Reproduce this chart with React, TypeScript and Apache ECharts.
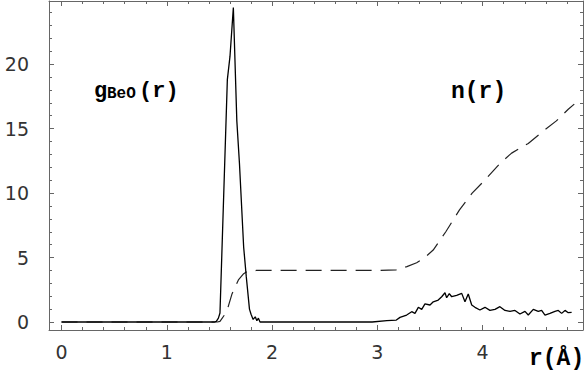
import React, { useEffect, useRef } from "react";
import * as echarts from "echarts";

// g_BeO(r) radial distribution: [r (Å), g]
const gBeO: [number, number][] = [
  [0, 0], [1.45, 0], [1.47, 0.05], [1.49, 0.3], [1.505, 0.7], [1.575, 18.8], [1.6, 20.6],
  [1.632, 24.4], [1.665, 15.6], [1.69, 12.3], [1.73, 5.8], [1.755, 3.5], [1.785, 1.0],
  [1.8, 0.6], [1.82, 0.2], [1.84, 0.4], [1.855, 0.1], [1.87, 0.3], [1.885, 0],
  [2.95, 0], [3.09, 0.1], [3.18, 0.15], [3.215, 0.36], [3.278, 0.54], [3.326, 0.8],
  [3.357, 0.67], [3.389, 1.14], [3.421, 0.98], [3.452, 1.4], [3.5, 1.32], [3.531, 1.57],
  [3.578, 1.7], [3.611, 1.96], [3.642, 2.27], [3.658, 1.88], [3.683, 2.2], [3.706, 1.96],
  [3.753, 2.07], [3.801, 2.22], [3.832, 1.57], [3.863, 2.17], [3.896, 1.32], [3.927, 1.14],
  [3.974, 0.93], [4.022, 1.14], [4.069, 0.9], [4.117, 0.98], [4.164, 1.19], [4.212, 0.9],
  [4.259, 0.83], [4.307, 0.9], [4.354, 0.62], [4.402, 0.83], [4.433, 0.54], [4.481, 0.98],
  [4.528, 0.83], [4.56, 0.9], [4.592, 0.54], [4.639, 0.67], [4.687, 0.83], [4.718, 0.9],
  [4.75, 0.67], [4.782, 0.9], [4.813, 0.72], [4.845, 0.75],
];

// n(r) running coordination number: [r (Å), n]
const nR: [number, number][] = [
  [0, 0], [1.48, 0], [1.505, 0.05], [1.569, 0.8], [1.62, 2.2], [1.68, 3.26], [1.73, 3.75],
  [1.76, 3.9], [1.85, 4.0], [3.0, 4.0], [3.18, 4.05], [3.28, 4.3], [3.373, 4.6], [3.45, 5.0],
  [3.53, 5.58], [3.65, 7.0], [3.78, 8.7], [3.9, 10.0], [4.02, 11.0], [4.164, 12.3],
  [4.275, 13.1], [4.433, 13.85], [4.59, 14.9], [4.7, 15.6], [4.813, 16.5], [4.87, 16.9],
];

const xLabels = [0, 1, 2, 3, 4];
const yLabels = [0, 5, 10, 15, 20];
const xMinor = [0, 0.2, 0.4, 0.6, 0.8, 1, 1.2, 1.4, 1.6, 1.8, 2, 2.2, 2.4, 2.6, 2.8, 3, 3.2, 3.4, 3.6, 3.8, 4, 4.2, 4.4, 4.6, 4.8];
const yMinor = [0, 1, 2, 3, 4, 5, 6, 7, 8, 9, 10, 11, 12, 13, 14, 15, 16, 17, 18, 19, 20, 21, 22, 23, 24];

const X_MIN = -0.119;
const X_MAX = 4.953;
const Y_MIN = -0.62;
const Y_MAX = 24.9;

const FRAME = "#666";
const LABEL_FONT = "DejaVu Sans";
const MONO = "Liberation Mono";

export default function App() {
  const ref = useRef<HTMLDivElement>(null);
  useEffect(() => {
    if (!ref.current) return;
    const chart = echarts.init(ref.current, null, { renderer: "svg" });
    const lineStyle = { color: FRAME, width: 1 };
    const mkX = (pos: "top" | "bottom", values: number[], len: number, withLine: boolean, labels: boolean) => ({
      type: "value",
      position: pos,
      min: X_MIN,
      max: X_MAX,
      axisLine: { show: withLine, onZero: false, lineStyle },
      axisTick: { show: true, inside: true, length: len, customValues: values, lineStyle },
      axisLabel: labels
        ? { show: true, customValues: xLabels, color: "#333", fontSize: 19, fontFamily: LABEL_FONT, margin: 12 }
        : { show: false },
      splitLine: { show: false },
    });
    const mkY = (pos: "left" | "right", values: number[], len: number, withLine: boolean, labels: boolean) => ({
      type: "value",
      position: pos,
      min: Y_MIN,
      max: Y_MAX,
      axisLine: { show: withLine, onZero: false, lineStyle },
      axisTick: { show: true, inside: true, length: len, customValues: values, lineStyle },
      axisLabel: labels
        ? { show: true, customValues: yLabels, color: "#333", fontSize: 19, fontFamily: LABEL_FONT, margin: 20 }
        : { show: false },
      splitLine: { show: false },
    });
    const txt = (text: string, x: number, y: number, size: number) => ({
      type: "text",
      x,
      y,
      style: { text, font: `bold ${size}px "${MONO}"`, fill: "#000", verticalAlign: "top", align: "left" },
    });
    chart.setOption({
      animation: false,
      backgroundColor: "#fff",
      grid: { left: 49, right: 5, top: 1, bottom: 50, containLabel: false, outerBoundsMode: "none" },
      xAxis: [
        mkX("bottom", xLabels, 5, true, true),
        mkX("bottom", xMinor, 3, false, false),
        mkX("top", xLabels, 5, true, false),
        mkX("top", xMinor, 3, false, false),
      ],
      yAxis: [
        mkY("left", yLabels, 5, true, true),
        mkY("left", yMinor, 3, false, false),
        mkY("right", yLabels, 5, true, false),
        mkY("right", yMinor, 3, false, false),
      ],
      series: [
        {
          type: "line",
          name: "n(r)",
          data: nR,
          xAxisIndex: 0,
          yAxisIndex: 0,
          showSymbol: false,
          lineStyle: { color: "#222", width: 1.2, type: [16, 9] },
        },
        {
          type: "line",
          name: "gBeO(r)",
          data: gBeO,
          xAxisIndex: 0,
          yAxisIndex: 0,
          showSymbol: false,
          lineStyle: { color: "#000", width: 1.3 },
        },
      ],
      graphic: [
        txt("g", 94, 80, 22),
        txt("BeO", 107, 86, 16),
        txt("(r)", 139, 80, 22),
        txt("n(r)", 451, 80, 23),
        txt("r(Å)", 529, 347, 23),
      ],
    });
    return () => chart.dispose();
  }, []);
  return <div ref={ref} style={{ position: "absolute", left: 0, top: 0, width: 588, height: 380 }} />;
}
